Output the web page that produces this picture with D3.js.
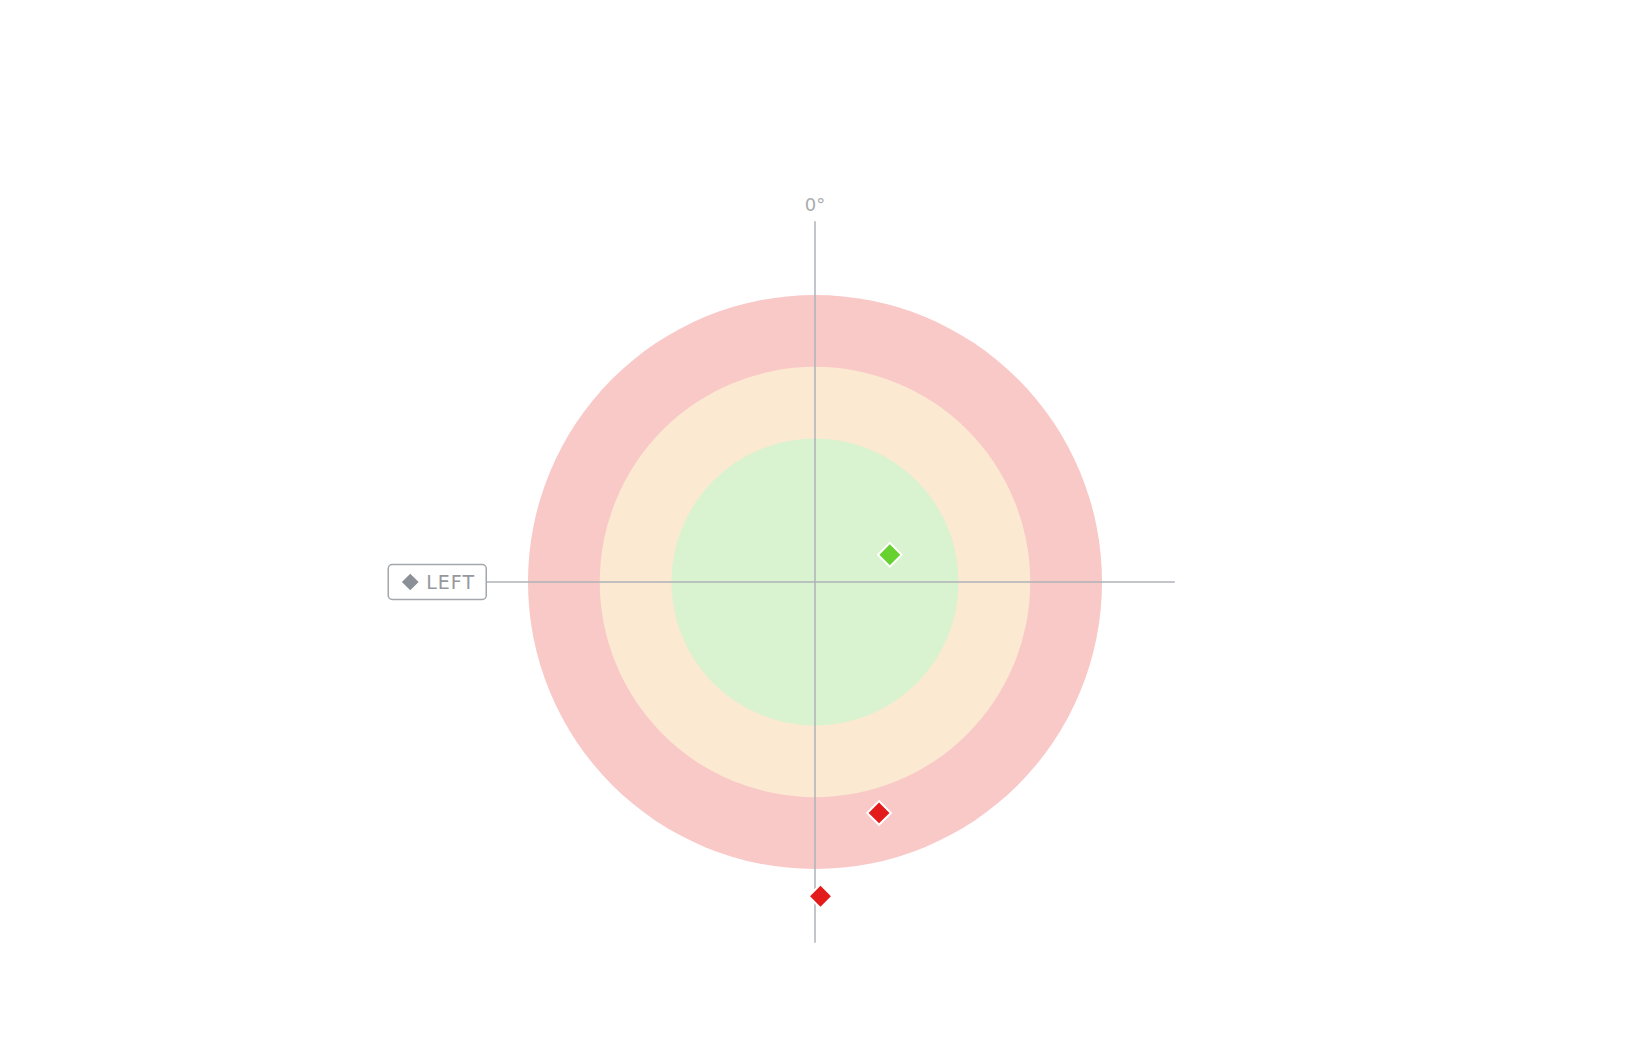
<!DOCTYPE html>
<html>
<head>
<meta charset="utf-8">
<script src="https://cdn.jsdelivr.net/npm/d3@7"></script>
<style>
  html, body { margin: 0; padding: 0; background: #fff; }
  text { font-family: "DejaVu Sans", sans-serif; }
</style>
</head>
<body>
<div id="chart"></div>
<script>
// Zones (radial bands) and points
const zoneNames = ["ok", "warn", "bad"];
const zoneEdges = [0, 2, 3, 4];
const zoneColors = ["#d9f2d0", "#fbe9d1", "#f9c9c8"];

const pointAngles = [70, 164.5, 179];   // degrees, clockwise from top
const pointRadius = [1.11, 3.34, 4.38];
const pointColors = ["#66d12f", "#e31b1b", "#e31b1b"];

const axisMax = 5;
const topLabel = "0°";
const sideLabel = "LEFT";

const width = 1630, height = 1062;
const cx = 815, cy = 582;

const r = d3.scaleLinear().domain([0, axisMax]).range([0, 358.75]);

const svg = d3.select("#chart").append("svg")
  .attr("width", width)
  .attr("height", height);

const g = svg.append("g")
  .attr("transform", "translate(" + cx + "," + cy + ")");

// Bands, drawn outer first
const bands = zoneNames.map((n, i) => ({ name: n, r0: zoneEdges[i], r1: zoneEdges[i + 1], color: zoneColors[i] }));
g.selectAll(".band")
  .data(bands.slice().reverse())
  .enter().append("circle")
  .attr("class", "band")
  .attr("r", d => r(d.r1))
  .attr("fill", d => d.color);

// Axis lines
const axisColor = "#aeb2b8";
g.append("line")
  .attr("x1", 0).attr("x2", 0)
  .attr("y1", -r(axisMax) - 2).attr("y2", r(axisMax) + 2)
  .attr("stroke", axisColor).attr("stroke-width", 1.5);
g.append("line")
  .attr("x1", -r(axisMax) + 30).attr("x2", r(axisMax) + 1)
  .attr("y1", 0).attr("y2", 0)
  .attr("stroke", axisColor).attr("stroke-width", 1.5);

// Top label
g.append("text")
  .attr("x", 0)
  .attr("y", -r(axisMax) - 12)
  .attr("text-anchor", "middle")
  .attr("font-size", 18)
  .attr("fill", "#a9abb0")
  .text(topLabel);

// Left label box
const lx = -r(axisMax) - 19, bw = 98, bh = 35;
const lab = g.append("g").attr("transform", "translate(" + lx + ",0)");
lab.append("rect")
  .attr("x", -bw / 2).attr("y", -bh / 2)
  .attr("width", bw).attr("height", bh)
  .attr("rx", 4)
  .attr("fill", "#fff")
  .attr("stroke", "#a3a6ab").attr("stroke-width", 1.5);
lab.append("path")
  .attr("d", d3.symbol(d3.symbolSquare, 140)())
  .attr("transform", "translate(" + (-bw / 2 + 22) + ",0) rotate(45)")
  .attr("fill", "#8b9098");
lab.append("text")
  .attr("x", -bw / 2 + 38)
  .attr("y", 7)
  .attr("font-size", 19)
  .attr("font-weight", 500)
  .attr("letter-spacing", 1)
  .attr("fill", "#95989d")
  .text(sideLabel);

// Points
const pts = pointAngles.map((a, i) => ({ a: a, v: pointRadius[i], c: pointColors[i] }));
g.selectAll(".pt")
  .data(pts)
  .enter().append("path")
  .attr("class", "pt")
  .attr("d", d3.symbol(d3.symbolSquare, 280)())
  .attr("transform", d => {
    const rad = d.a * Math.PI / 180;
    const x = r(d.v) * Math.sin(rad), y = -r(d.v) * Math.cos(rad);
    return "translate(" + x + "," + y + ") rotate(45)";
  })
  .attr("fill", d => d.c)
  .attr("stroke", "#fff")
  .attr("stroke-width", 2);
</script>
</body>
</html>
